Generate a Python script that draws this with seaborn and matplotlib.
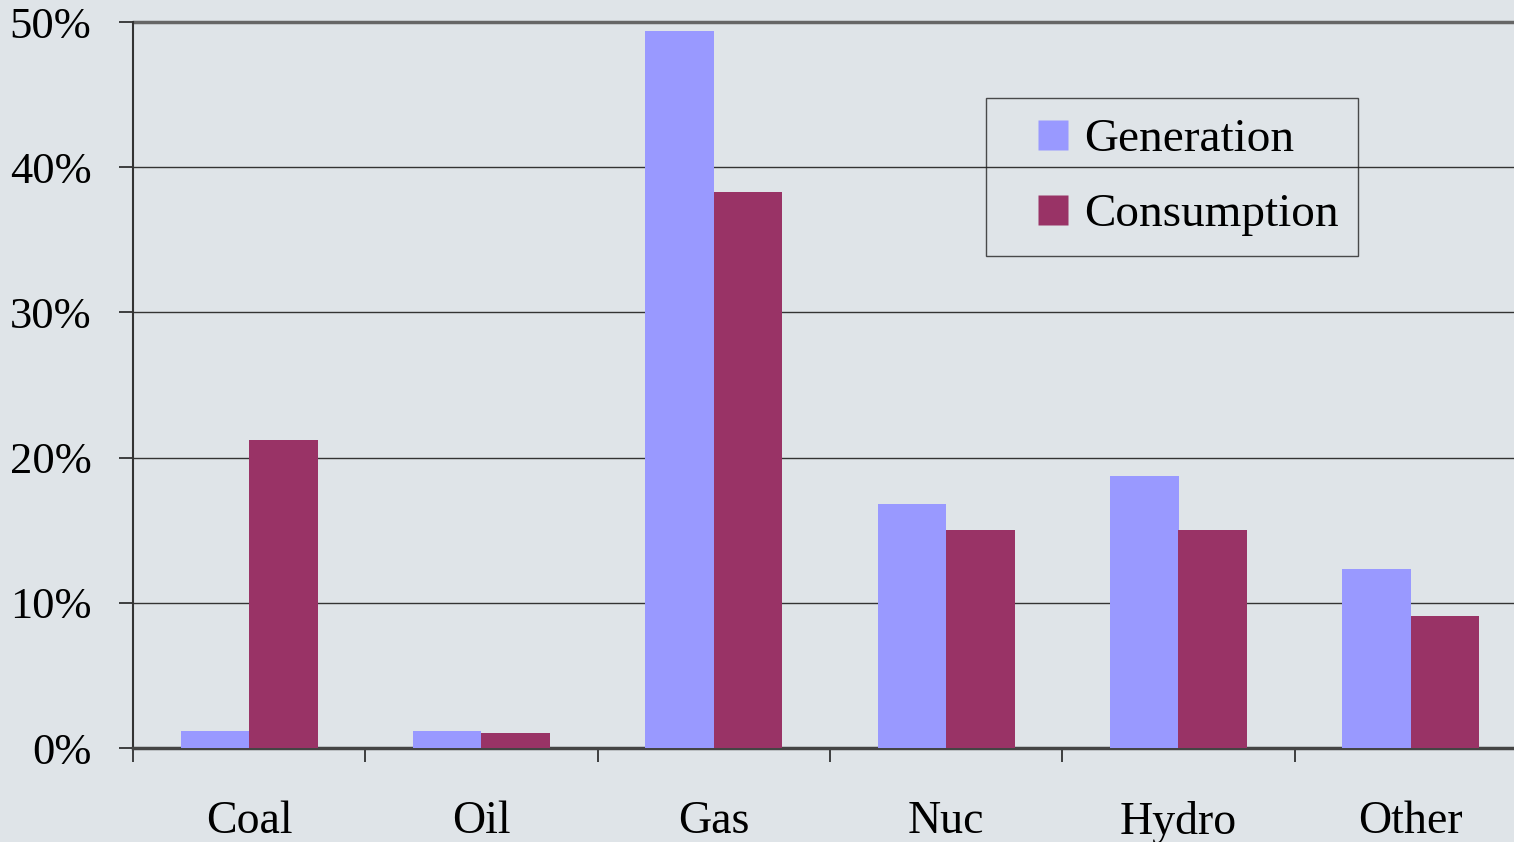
import matplotlib
matplotlib.use("Agg")
import matplotlib.pyplot as plt
import numpy as np
import pandas as pd
import seaborn as sns
from matplotlib.lines import Line2D
from matplotlib.ticker import FixedLocator, PercentFormatter

# -----------------------------
# Data (share of total, %)
# -----------------------------
categories = ["Coal", "Oil", "Gas", "Nuc", "Hydro", "Other"]
generation = [1.2, 1.2, 49.4, 16.8, 18.7, 12.3]
consumption = [21.2, 1.0, 38.3, 15.0, 15.0, 9.1]
series_names = ["Generation", "Consumption"]
y_ticks = [0, 10, 20, 30, 40, 50]

BG = "#dfe4e8"
COLORS = ["#9999ff", "#993366"]

df = pd.DataFrame({
    "fuel": categories * 2,
    "share": generation + consumption,
    "series": [series_names[0]] * len(categories) + [series_names[1]] * len(categories),
})

sns.set_theme(style="white")
plt.rcParams["font.family"] = ["Liberation Serif", "DejaVu Serif"]
plt.rcParams["text.color"] = "black"
plt.rcParams["xtick.labelcolor"] = "black"
plt.rcParams["ytick.labelcolor"] = "black"

fig = plt.figure(figsize=(15.14, 8.42), dpi=100, facecolor=BG)
# axes runs past the right edge, like the original slide crop
ax = fig.add_axes([133 / 1514, 94 / 842, 1394 / 1514, 726 / 842])
ax.set_facecolor("none")

sns.barplot(
    data=df, x="fuel", y="share", hue="series", order=categories,
    hue_order=series_names, palette=COLORS, width=0.59, saturation=1,
    ax=ax, zorder=3, legend=False,
)
for p in ax.patches:
    p.set_edgecolor("none")
    p.set_zorder(3)

ax.set_xlim(-0.5, len(categories) - 0.5)
ax.set_ylim(0, 50)
ax.set_yticks(y_ticks)
ax.yaxis.set_major_formatter(PercentFormatter(decimals=0))
ax.grid(axis="y", color="#333333", linewidth=1.0, zorder=0)
ax.set_axisbelow(True)

ax.set_xlabel("")
ax.set_ylabel("")

# category boundaries as ticks, labels centred without ticks
ax.xaxis.set_minor_locator(FixedLocator(np.arange(-0.5, len(categories), 1.0)))
ax.tick_params(axis="x", which="major", length=0, pad=38, labelsize=33, labelcolor="black")
ax.tick_params(axis="x", which="minor", bottom=True, length=10, width=1.2, color="#222222")
ax.tick_params(axis="y", which="major", left=True, length=10, width=1.2, color="#222222",
               pad=20, labelsize=32, labelcolor="black")

for side in ["top", "right"]:
    ax.spines[side].set_visible(False)
ax.spines["left"].set_color("#333333")
ax.spines["left"].set_linewidth(1.5)
ax.spines["bottom"].set_color("#444444")
ax.spines["bottom"].set_linewidth(2.5)
ax.axhline(50, color="#666666", linewidth=2.5, zorder=1, clip_on=False)

handles = [
    Line2D([], [], linestyle="none", marker="s", markersize=21,
           markerfacecolor=c, markeredgecolor="none")
    for c in COLORS
]
leg = ax.legend(
    handles, series_names,
    loc="upper left", bbox_to_anchor=(0.612, 0.895), fontsize=34,
    frameon=True, fancybox=False, edgecolor="#222222", facecolor="none",
    handlelength=2.0, handletextpad=-0.35,
    labelspacing=0.68, borderpad=0.42, borderaxespad=0,
)
leg.get_frame().set_linewidth(1.0)
for t in leg.get_texts():
    t.set_color("black")

fig.savefig("out.png", dpi=100, facecolor=BG)
